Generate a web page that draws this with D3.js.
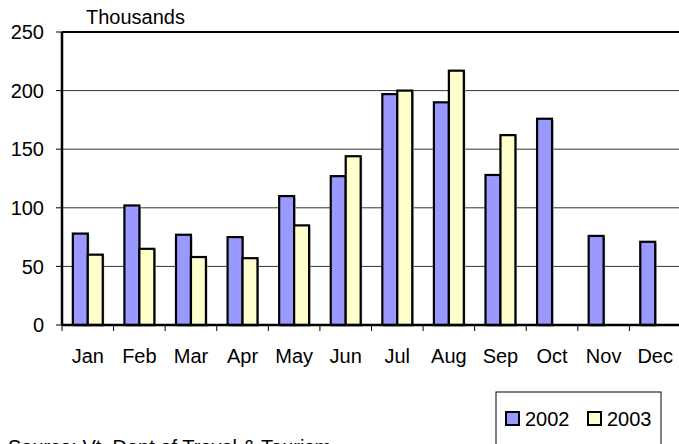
<!DOCTYPE html>
<html>
<head>
<meta charset="utf-8">
<script src="https://cdn.jsdelivr.net/npm/d3@7"></script>
<style>
  body { margin: 0; background: #fff; overflow: hidden; }
  text { font-family: "Liberation Sans", Arial, sans-serif; fill: #000; font-size: 20px; }
</style>
</head>
<body>
<div id="chart"></div>
<script>
// visitors, thousands
var months = ["Jan","Feb","Mar","Apr","May","Jun","Jul","Aug","Sep","Oct","Nov","Dec"];
var years = ["2002","2003"];
var vals2002 = [78, 102, 77, 75, 110, 127, 197, 190, 128, 176, 76, 71];
var vals2003 = [60, 65, 58, 57, 85, 144, 200, 217, 162, null, null, null];
var yTicks = [0, 50, 100, 150, 200, 250];
var colors = ["#9999ff", "#ffffcc"];

var svgWidth = 679, svgHeight = 444;
var margin = { top: 32, left: 62 };
var width = 619, height = 293;

var svg = d3.select("#chart").append("svg").attr("width", svgWidth).attr("height", svgHeight);
var g = svg.append("g").attr("transform", "translate(" + margin.left + "," + margin.top + ")");

var x = d3.scaleBand().domain(months).range([0, width]).paddingInner(0.42).paddingOuter(0.21);
var x1 = d3.scaleBand().domain(years).range([0, x.bandwidth()]);
var y = d3.scaleLinear().domain([0, 250]).range([height, 0]);

// gridlines
g.selectAll(".grid").data(yTicks.slice(1, 5)).enter().append("line")
    .attr("x1", 0).attr("x2", width)
    .attr("y1", function (d) { return y(d); }).attr("y2", function (d) { return y(d); })
    .attr("stroke", "#333").attr("stroke-width", 1);
g.append("line").attr("x1", 0).attr("x2", width).attr("y1", y(250)).attr("y2", y(250))
    .attr("stroke", "#000").attr("stroke-width", 2);

var rows = [];
months.forEach(function (m, i) {
    rows.push({ m: m, yr: "2002", v: vals2002[i] });
    if (vals2003[i] != null) rows.push({ m: m, yr: "2003", v: vals2003[i] });
});

// shadow
g.selectAll(".shadow").data(rows).enter().append("rect")
    .attr("x", function (d) { return x(d.m) + x1(d.yr) + 1.5; })
    .attr("y", function (d) { return y(d.v) + 1.5; })
    .attr("width", x1.bandwidth())
    .attr("height", function (d) { return height - y(d.v); })
    .attr("fill", "#aaa");

g.selectAll(".bar").data(rows).enter().append("rect")
    .attr("x", function (d) { return x(d.m) + x1(d.yr); })
    .attr("y", function (d) { return y(d.v); })
    .attr("width", x1.bandwidth())
    .attr("height", function (d) { return height - y(d.v); })
    .attr("fill", function (d) { return colors[years.indexOf(d.yr)]; })
    .attr("stroke", "#000").attr("stroke-width", 2.2);

// y axis
g.append("line").attr("x1", 0).attr("x2", 0).attr("y1", 0).attr("y2", height)
    .attr("stroke", "#000").attr("stroke-width", 2.5);
g.selectAll(".ytick").data(yTicks).enter().append("line")
    .attr("x1", -6).attr("x2", 0)
    .attr("y1", function (d) { return y(d); }).attr("y2", function (d) { return y(d); })
    .attr("stroke", "#000").attr("stroke-width", 1);
g.selectAll(".ylab").data(yTicks).enter().append("text")
    .attr("x", -18).attr("y", function (d) { return y(d); })
    .attr("dy", "0.36em").attr("text-anchor", "end")
    .text(function (d) { return d; });

// x axis
g.append("line").attr("x1", 0).attr("x2", width).attr("y1", height).attr("y2", height)
    .attr("stroke", "#000").attr("stroke-width", 2.5);
var step = x.step();
g.selectAll(".xtick").data(d3.range(months.length + 1)).enter().append("line")
    .attr("x1", function (i) { return i * step; }).attr("x2", function (i) { return i * step; })
    .attr("y1", height).attr("y2", height + 6)
    .attr("stroke", "#000").attr("stroke-width", 1);
g.selectAll(".xlab").data(months).enter().append("text")
    .attr("x", function (d) { return x(d) + x.bandwidth() / 2; })
    .attr("y", height + 38).attr("text-anchor", "middle")
    .text(function (d) { return d; });

svg.append("text").attr("x", 86).attr("y", 24).text("Thousands");

// legend
var lg = svg.append("g").attr("transform", "translate(496,392)");
lg.append("rect").attr("width", 165).attr("height", 70).attr("fill", "#fff")
    .attr("stroke", "#000").attr("stroke-width", 1);
var item = lg.selectAll(".item").data(years).enter().append("g")
    .attr("transform", function (d, i) { return "translate(" + (10 + i * 82) + ",20)"; });
item.append("rect").attr("width", 13).attr("height", 13)
    .attr("fill", function (d, i) { return colors[i]; })
    .attr("stroke", "#000").attr("stroke-width", 2);
item.append("text").attr("x", 19).attr("y", 14).text(function (d) { return d; });

svg.append("text").attr("x", 8).attr("y", 454)
    .text("Source: Vt. Dept of Travel & Tourism");
</script>
</body>
</html>
